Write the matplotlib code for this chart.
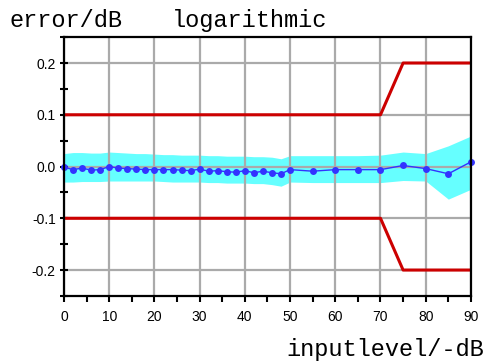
import numpy as np
import matplotlib
matplotlib.use("Agg")
from matplotlib import pyplot as plt
from matplotlib.ticker import MultipleLocator

# measured level error vs input level
level = [0, 2, 4, 6, 8, 10, 12, 14, 16, 18, 20, 22, 24, 26, 28, 30, 32, 34,
         36, 38, 40, 42, 44, 46, 48, 50, 55, 60, 65, 70, 75, 80, 85, 90]
error = [-0.001, -0.006, -0.003, -0.007, -0.006, 0.000, -0.003, -0.004,
         -0.005, -0.006, -0.006, -0.006, -0.006, -0.007, -0.008, -0.005,
         -0.009, -0.008, -0.010, -0.011, -0.008, -0.012, -0.009, -0.012,
         -0.014, -0.006, -0.009, -0.006, -0.006, -0.006, 0.002, -0.004,
         -0.014, 0.009]
# spread of the error
err_hi = [0.025, 0.027, 0.027, 0.026, 0.026, 0.028, 0.027, 0.026, 0.025,
          0.025, 0.024, 0.023, 0.023, 0.022, 0.022, 0.022, 0.021, 0.021,
          0.020, 0.020, 0.020, 0.019, 0.019, 0.018, 0.015, 0.021, 0.021,
          0.021, 0.021, 0.022, 0.028, 0.025, 0.040, 0.059]
err_lo = [-0.030, -0.030, -0.029, -0.029, -0.029, -0.028, -0.028, -0.028,
          -0.028, -0.028, -0.028, -0.029, -0.030, -0.030, -0.030, -0.030,
          -0.031, -0.031, -0.032, -0.032, -0.032, -0.033, -0.033, -0.035,
          -0.038, -0.030, -0.031, -0.031, -0.031, -0.031, -0.027, -0.028,
          -0.063, -0.044]

# tolerance mask
lim_x = [0, 70, 75, 90]
lim_hi = [0.1, 0.1, 0.2, 0.2]
lim_lo = [-0.1, -0.1, -0.2, -0.2]

mono = "Liberation Mono"
plt.rcParams['font.family'] = ["Liberation Sans", "DejaVu Sans"]

fig = plt.figure(figsize=(4.87, 3.64), dpi=100)
ax = fig.add_axes([0.1314, 0.187, 0.8356, 0.711])

ax.fill_between(level, err_lo, err_hi, color="#66ffff", lw=0, zorder=1)
ax.grid(True, color="#aaaaaa", lw=1.6, zorder=2)
ax.set_axisbelow(False)
for gl in ax.get_xgridlines() + ax.get_ygridlines():
    gl.set_zorder(2)
ax.plot(lim_x, lim_hi, color="#cc0000", lw=2.2, zorder=3)
ax.plot(lim_x, lim_lo, color="#cc0000", lw=2.2, zorder=3)
ax.plot(level, error, color="#3333ff", lw=1.0, marker="o", ms=5,
        markeredgewidth=0, zorder=4, clip_on=False)

ax.set_xlim(0, 90)
ax.set_ylim(-0.25, 0.25)
ax.xaxis.set_major_locator(MultipleLocator(10))
ax.xaxis.set_minor_locator(MultipleLocator(5))
ax.yaxis.set_major_locator(MultipleLocator(0.1))
ax.yaxis.set_minor_locator(MultipleLocator(0.05))
ax.set_yticks([-0.2, -0.1, 0.0, 0.1, 0.2])
ax.set_yticklabels(["-0.2", "-0.1", "0.0", "0.1", "0.2"])
ax.tick_params(axis="x", which="both", direction="out", length=4, width=1.5,
               labelsize=10, pad=6)
ax.tick_params(axis="y", which="both", direction="inout", length=6, width=1.5,
               labelsize=10, pad=3)
for s in ax.spines.values():
    s.set_linewidth(1.6)
    s.set_zorder(5)

fig.text(0.02, 0.945, "error/dB", family=mono, fontsize=17, va="center")
fig.text(0.352, 0.945, "logarithmic", family=mono, fontsize=17, va="center")
fig.text(0.995, 0.04, "inputlevel/-dB", family=mono, fontsize=17,
         ha="right", va="center")

fig.savefig("out.png", dpi=100)
